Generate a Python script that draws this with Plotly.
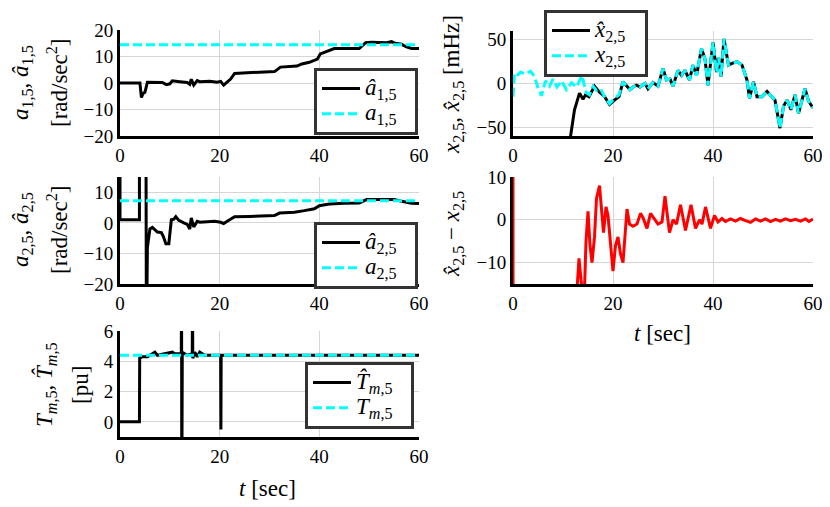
import plotly.graph_objects as go

SERIF = "Liberation Serif"

# panel 1: a_1,5 estimate vs. true
t_a1 = [0, 4.0, 4.3, 4.6, 5.0, 5.5, 8.5, 9.3, 10.0, 10.5, 12.0, 13.5, 14.0, 14.3, 14.8, 15.5,
        16.0, 18.0, 19.5, 20.2, 20.8, 21.5, 22.2, 23.0, 25.0, 28.0, 31.0, 31.5, 32.2, 35.5,
        36.5, 38.0, 38.8, 39.6, 40.2, 41.5, 43.0, 48.0, 49.3, 50.5, 53.5, 54.5, 55.2, 56.5,
        57.5, 58.5, 60.0]
a1_hat = [0, 0, -5.5, -4.0, -3.5, 0.3, 0.2, -0.6, -0.3, 0.8, 0.5, 0.2, -0.5, 1.4, -0.8, 0.9,
          0.5, 0.7, 0.3, 0.6, -0.8, 0.3, 1.5, 3.6, 3.9, 4.1, 4.3, 5.0, 6.0, 6.4,
          7.2, 7.8, 8.5, 9.0, 11.0, 11.8, 13.0, 13.0, 15.2, 15.4, 15.2, 15.6, 15.0, 14.6,
          13.6, 13.0, 13.0]
t_a1_true = [0, 60]
a1_true = [14.4, 14.4]

# panel 2: a_2,5
t_a2 = [0, 0, 3.9, 3.9, 5.2, 5.3, 5.5, 6.0, 6.5, 7.5, 8.3, 8.7, 9.2, 9.8, 10.3, 10.8, 11.2,
        11.8, 12.8, 13.5, 14.0, 14.3, 14.8, 15.5, 16.0, 17.0, 19.0, 20.2, 20.8, 22.0, 23.0,
        26.0, 31.0, 32.0, 35.0, 37.0, 39.0, 40.0, 42.0, 45.0, 48.0, 49.5, 52.0, 55.0, 57.0,
        58.5, 60.0]
a2_hat = [40, 1, 1, 40, 40, -40, -8, -2, -1.5, -3, -3.2, -4.5, -6.8, -6.8, 1.0, 1.2, 2.0,
          0.8, 0, -0.5, -2.0, 1.6, -1.3, 0.5, 0.2, 0.3, 0.5, 0.2, -0.2, 1.0, 2.0,
          2.1, 2.4, 3.2, 3.5, 4.0, 4.6, 5.6, 6.2, 6.4, 6.5, 7.6, 7.7, 7.6, 6.9,
          6.4, 6.3]
t_a2_true = [0, 60]
a2_true = [7.2, 7.2]

# panel 3: T_m,5
t_tm = [0, 3.9, 3.95, 4.5, 5.5, 6.5, 7.0, 7.5, 9.0, 10.5, 11.0, 12.3, 12.35, 12.4, 12.5,
        13.5, 14.5, 14.55, 14.6, 15.0, 15.5, 16.0, 17.0, 20.2, 20.25, 20.3, 21.0, 60.0]
tm_hat = [0, 0, 4.2, 4.3, 4.3, 4.5, 4.6, 4.4, 4.5, 4.6, 4.5, 4.5, 10, -5, 4.6,
          4.4, 4.5, 10, 4.2, 4.6, 4.3, 4.6, 4.4, 4.4, -0.5, 4.4, 4.4, 4.4]
t_tm_true = [0, 60]
tm_true = [4.4, 4.4]

# panel 4: x_2,5 [mHz]
t_x_head = [0, 0.3, 1.0, 1.5, 2.5, 3.5, 4.3, 5.0, 5.7, 6.5, 7.3, 8.0, 8.8, 9.7, 10.7, 11.7,
            12.7, 13.8, 14.6, 15.3, 16.0, 16.7, 17.5, 18.3, 19.3, 20.3, 21.2]
x_head = [-15, 12, 10, 13, 11, 14, 8, -5, -14, 3, -3, 5, -4, 3, -7, 1,
          -4, 9, -10, -13, -3, -8, -6, -15, -23, -17, -13]
t_xhat_head = [11.0, 12.3, 13.3, 14.0, 14.5, 15.2, 16.3, 17.3, 18.2, 19.3, 20.3, 21.2]
xhat_head = [-80, -30, -11, -18, -13, -15, -3, -10, -14, -24, -19, -15]
t_x_tail = [22.0, 23.4, 24.0, 24.7, 25.4, 26.4, 27.0, 28.0, 29.0, 30.0, 30.7, 31.4, 32.0,
            33.0, 33.7, 34.4, 35.3, 36.0, 36.7, 37.7, 38.4, 39.0, 40.0, 40.7, 41.1, 41.6,
            42.2, 43.1, 43.8, 44.8, 45.8, 46.8, 47.3, 48.1, 48.8, 49.8, 50.8, 51.4, 52.4,
            53.4, 54.1, 54.8, 55.6, 56.4, 57.1, 58.4, 59.1, 60.0]
x_tail = [2, -7, -4, -2, -4, 0, -6, 1, -3, 17, 4, 5, -3,
          15, 9, 15, 4, 21, 9, 40, 28, -2, 47, 13, 30, 8,
          51, 21, 23, 25, 21, 4, -17, 2, -15, -15, -9, -13, -19,
          -51, -26, -19, -30, -13, -34, -6, -20, -28]

# panel 5: estimation error
t_err = [0, 0.02, 12.6, 12.9, 13.2, 13.6, 13.8, 14.2, 14.6, 15.0, 15.4, 15.8, 16.3, 16.7,
         17.3, 17.7, 18.1, 18.6, 19.0, 20.0, 20.5, 21.0, 21.5, 22.0, 22.8, 23.3, 24.0, 24.8,
         25.5, 26.0, 26.8, 27.5, 28.3, 29.0, 29.8, 30.4, 31.3, 32.0, 32.7, 33.5, 34.5, 35.0,
         35.6, 36.5, 37.3, 37.8, 38.5, 39.5, 40.3, 41.0, 41.8, 42.5, 43.5, 44.5, 45.5, 46.5,
         47.5, 48.5, 49.5, 50.5, 51.5, 52.5, 53.5, 54.5, 55.5, 56.5, 57.5, 58.5, 59.2, 60.0]
err = [10.5, -40, -20, -14, -9, -14, -20, -20, -5, 2, -6, -10, -4, 5,
       8, 3, -3, 3, 1, -12, -6, -4, -8, -10, 2.5, -1, -1.5, -1,
       1.5, 0.5, -2, 1.5, 0, -1, -0.5, 5.5, -3, 0, -1, 3.5, -2.5, 0,
       3.5, -2, 0, -1, 3, -2, 1, -0.5, 0.3, -0.4, 0.2, -0.3, 0.3, -0.2,
       -0.6, 0.2, -0.3, 0.2, -0.4, 0.1, -0.3, 0.2, -0.2, 0.1, -0.3, 0.2, -0.4, 0.2]

# the page body adds an 8px offset, so the figure is a bit smaller than the window
OFF = 8
W, H = 830 - OFF, 507 - OFF


def px_x(v):
    return (v - OFF) / W


def px_y(v):
    return 1 - (v - OFF) / H


def leg(text):
    # legend spacing follows legend.font.size, so the text itself is enlarged inline
    return '<span style="font-size:23px">' + text + "</span>\u00a0\u00a0\u00a0"


fig = go.Figure()

black = dict(color="black", width=3)
cyan = dict(color="#00ffff", width=3, dash="9px,4px")

fig.add_trace(go.Scatter(x=t_a1, y=a1_hat, mode="lines", line=black, xaxis="x", yaxis="y",
                         name=leg("<i>â</i><sub>1,5</sub>"), legend="legend"))
fig.add_trace(go.Scatter(x=t_a1_true, y=a1_true, mode="lines", line=cyan, xaxis="x", yaxis="y",
                         name=leg("<i>a</i><sub>1,5</sub>"), legend="legend"))

fig.add_trace(go.Scatter(x=t_a2, y=a2_hat, mode="lines", line=black, xaxis="x2", yaxis="y2",
                         name=leg("<i>â</i><sub>2,5</sub>"), legend="legend2"))
fig.add_trace(go.Scatter(x=t_a2_true, y=a2_true, mode="lines", line=cyan, xaxis="x2", yaxis="y2",
                         name=leg("<i>a</i><sub>2,5</sub>"), legend="legend2"))

fig.add_trace(go.Scatter(x=t_tm, y=tm_hat, mode="lines", line=black, xaxis="x3", yaxis="y3",
                         name=leg("<i>T̂</i><sub><i>m</i>,5</sub>"), legend="legend3"))
fig.add_trace(go.Scatter(x=t_tm_true, y=tm_true, mode="lines", line=cyan, xaxis="x3", yaxis="y3",
                         name=leg("<i>T</i><sub><i>m</i>,5</sub>"), legend="legend3"))

fig.add_trace(go.Scatter(x=t_xhat_head + t_x_tail, y=xhat_head + x_tail, mode="lines", line=black,
                         xaxis="x4", yaxis="y4", name=leg("<i>x̂</i><sub>2,5</sub>"),
                         legend="legend4"))
fig.add_trace(go.Scatter(x=t_x_head + t_x_tail, y=x_head + x_tail, mode="lines", line=cyan,
                         xaxis="x4", yaxis="y4", name=leg("<i>x</i><sub>2,5</sub>"),
                         legend="legend4"))

fig.add_trace(go.Scatter(x=t_err, y=err, mode="lines", line=dict(color="red", width=3),
                         xaxis="x5", yaxis="y5", showlegend=False))

tick_font = dict(family=SERIF, size=19, color="black")
axis_style = dict(showline=True, linewidth=3, linecolor="black", mirror=False, showgrid=True,
                  gridcolor="#d6d6d6", gridwidth=1, zeroline=False, ticks="", ticklen=0,
                  tickfont=tick_font, automargin=False)

left_x = [px_x(120), px_x(419)]
right_x = [px_x(513), px_x(813)]
xticks = [0, 20, 40, 60]

panels = [
    ("", left_x, [px_y(136), px_y(30)], [-20, 20], [-20, -10, 0, 10, 20]),
    ("2", left_x, [px_y(284), px_y(177)], [-20, 15], [-20, -10, 0, 10]),
    ("3", left_x, [px_y(437), px_y(331)], [-1, 6], [0, 2, 4, 6]),
    ("4", right_x, [px_y(136), px_y(31)], [-60, 60], [-50, 0, 50]),
    ("5", right_x, [px_y(284), px_y(177)], [-15, 10], [-10, 0, 10]),
]
layout_axes = {}
for key, xdom, ydom, yrange, yticks in panels:
    layout_axes["xaxis" + key] = dict(axis_style, domain=xdom, range=[0, 60], tickvals=xticks,
                                      anchor="y" + key)
    layout_axes["yaxis" + key] = dict(axis_style, domain=ydom, range=yrange, tickvals=yticks,
                                      anchor="x" + key)

legend_style = dict(xanchor="left", yanchor="top", bgcolor="white", bordercolor="#333333",
                    borderwidth=3, font=dict(family=SERIF, size=17, color="black"),
                    tracegroupgap=0, itemwidth=38)

fig.update_layout(
    width=W, height=H,
    margin=dict(l=0, r=0, t=0, b=0, autoexpand=False),
    paper_bgcolor="white", plot_bgcolor="white",
    font=dict(family=SERIF, color="black"),
    legend=dict(legend_style, x=px_x(314), y=px_y(68)),
    legend2=dict(legend_style, x=px_x(314), y=px_y(222)),
    legend3=dict(legend_style, x=px_x(305), y=px_y(362)),
    legend4=dict(legend_style, x=px_x(544), y=px_y(10)),
    **layout_axes,
)

title_font = dict(family=SERIF, size=23, color="black")
ytitles = [
    ("<i>a</i><sub>1,5</sub>, <i>â</i><sub>1,5</sub>", 22, 83),
    ("[rad/sec<sup>2</sup>]", 57, 83),
    ("<i>a</i><sub>2,5</sub>, <i>â</i><sub>2,5</sub>", 22, 230),
    ("[rad/sec<sup>2</sup>]", 57, 230),
    ("<i>T</i><sub><i>m</i>,5</sub>, <i>T̂</i><sub><i>m</i>,5</sub>", 45, 385),
    ("[pu]", 80, 385),
    ("<i>x</i><sub>2,5</sub>, <i>x̂</i><sub>2,5</sub> [mHz]", 453, 84),
    ("<i>x̂</i><sub>2,5</sub> − <i>x</i><sub>2,5</sub>", 453, 234),
]
for text, ax_px, ay_px in ytitles:
    fig.add_annotation(text=text, x=px_x(ax_px), y=px_y(ay_px), xref="paper", yref="paper",
                       textangle=-90, showarrow=False, font=title_font,
                       xanchor="center", yanchor="middle")

for ax_px, ay_px in [(267, 488), (662, 333)]:
    fig.add_annotation(text="<i>t</i> [sec]", x=px_x(ax_px), y=px_y(ay_px), xref="paper",
                       yref="paper", showarrow=False, font=title_font,
                       xanchor="center", yanchor="middle")

fig.write_html("out.html")
